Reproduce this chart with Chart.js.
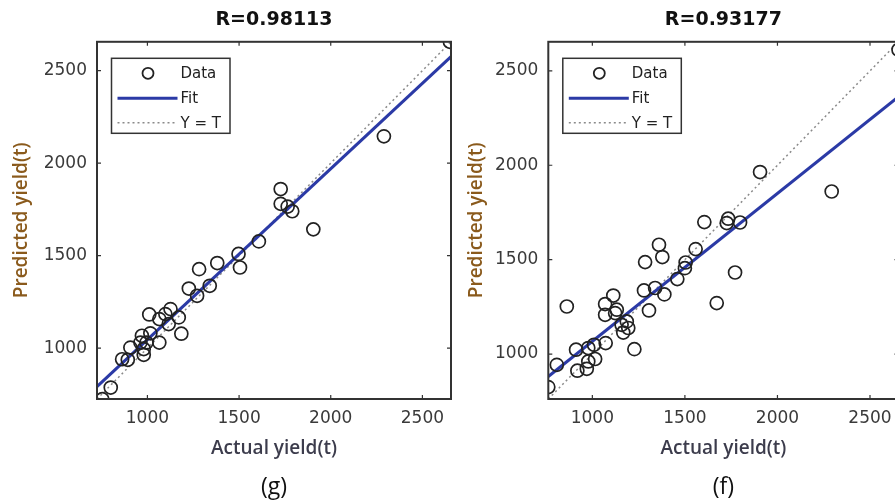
<!DOCTYPE html>
<html>
<head>
<meta charset="utf-8">
<script src="https://cdn.jsdelivr.net/npm/chart.js@4/dist/chart.umd.min.js"></script>
<style>
  html, body { margin: 0; padding: 0; background: #fff; overflow: hidden; }
  #wrap { position: relative; width: 895px; height: 502px; overflow: hidden; }
  #plotG { position: absolute; left: 0; top: 0; }
  #plotF { position: absolute; left: 460px; top: 0; }
</style>
</head>
<body>
<div id="wrap">
  <canvas id="plotG" width="460" height="502"></canvas>
  <canvas id="plotF" width="460" height="502"></canvas>
</div>
<script>
// (g) model: actual vs predicted yield
const actualG = [2650, 2290, 1727, 1727, 1765, 1790, 1905, 1608, 1497, 1505, 1381, 1282, 1340, 1226, 1271,
                 1126, 1098, 1010, 1065, 1171, 1116, 1185, 1065, 1016, 970, 962, 995, 980, 980, 907, 893, 862, 800, 754];
const predictedG = [2656, 2145, 1860, 1780, 1765, 1740, 1642, 1577, 1509, 1436, 1460, 1427, 1337, 1322, 1283,
                    1211, 1184, 1182, 1157, 1166, 1130, 1078, 1030, 1080, 1067, 1030, 1030, 995, 964, 1003, 937, 940, 787, 724];
const fitXG = [725, 2656];
const fitYG = [792, 2576];
const rangeG = [725, 2656];

// (f) model
const actualF = [2654, 2293, 1906, 1734, 1726, 1798, 1605, 1771, 1672, 1558, 1504, 1500, 1459, 1360, 1378,
                 1285, 1389, 1339, 1279, 1306, 1113, 1069, 1132, 1069, 1123, 862, 1186, 1194, 1167, 1158,
                 1227, 1072, 1009, 978, 912, 1015, 978, 970, 919, 808, 762];
const predictedF = [2612, 1861, 1964, 1717, 1694, 1697, 1699, 1432, 1270, 1556, 1485, 1455, 1397, 1579, 1514,
                    1487, 1316, 1350, 1337, 1231, 1310, 1265, 1235, 1208, 1217, 1252, 1173, 1138, 1114, 1155,
                    1026, 1058, 1049, 1032, 1023, 974, 961, 922, 912, 943, 825];
const fitXF = [762, 2654];
const fitYF = [881, 2363];
const rangeF = [762, 2654];

const tickValues = [1000, 1500, 2000, 2500];
const legendLabels = ['Data', 'Fit', 'Y = T'];

const toPoints = (xs, ys) => xs.map((x, i) => ({ x: x, y: ys[i] }));

// box around the plot area with inward ticks on all four sides
const boxPlugin = {
    id: 'boxPlugin',
    afterDatasetsDraw(chart) {
        const { ctx, chartArea: a, scales: { x, y } } = chart;
        ctx.save();
        ctx.strokeStyle = '#333';
        ctx.lineWidth = 1.2;
        tickValues.forEach(v => {
            const px = x.getPixelForValue(v);
            const py = y.getPixelForValue(v);
            ctx.beginPath();
            ctx.moveTo(px, a.bottom); ctx.lineTo(px, a.bottom - 4);
            ctx.moveTo(px, a.top); ctx.lineTo(px, a.top + 4);
            ctx.moveTo(a.left, py); ctx.lineTo(a.left + 4, py);
            ctx.moveTo(a.right, py); ctx.lineTo(a.right - 4, py);
            ctx.stroke();
        });
        ctx.lineWidth = 2;
        ctx.strokeRect(a.left, a.top, a.right - a.left, a.bottom - a.top);
        ctx.restore();
    }
};

// legend box in the upper left corner of the plot area
const legendPlugin = {
    id: 'legendPlugin',
    afterDraw(chart) {
        const { ctx, chartArea: a } = chart;
        const bx = a.left + 14.5, by = a.top + 16.5, bw = 118.5, bh = 75;
        const rows = [15, 40, 64.5];
        ctx.save();
        ctx.fillStyle = '#fff';
        ctx.fillRect(bx, by, bw, bh);
        ctx.strokeStyle = '#333';
        ctx.lineWidth = 1.5;
        ctx.strokeRect(bx, by, bw, bh);

        // Data marker
        ctx.beginPath();
        ctx.lineWidth = 1.8;
        ctx.strokeStyle = '#222';
        ctx.arc(bx + 36.5, by + rows[0], 5.5, 0, Math.PI * 2);
        ctx.stroke();

        // Fit line
        ctx.beginPath();
        ctx.strokeStyle = '#2b3aa6';
        ctx.lineWidth = 3;
        ctx.moveTo(bx + 6, by + rows[1]); ctx.lineTo(bx + 66, by + rows[1]);
        ctx.stroke();

        // Y = T line
        ctx.beginPath();
        ctx.strokeStyle = '#8a8a8a';
        ctx.lineWidth = 1.5;
        ctx.setLineDash([2, 3]);
        ctx.moveTo(bx + 6, by + rows[2]); ctx.lineTo(bx + 66, by + rows[2]);
        ctx.stroke();
        ctx.setLineDash([]);

        ctx.fillStyle = '#222';
        ctx.font = '15px "DejaVu Sans"';
        ctx.textBaseline = 'middle';
        ctx.textAlign = 'left';
        legendLabels.forEach((t, i) => ctx.fillText(t, bx + 69, by + rows[i] + 1));
        ctx.restore();
    }
};

function makePlot(id, opts) {
    const ctx = document.getElementById(id).getContext('2d');
    return new Chart(ctx, {
        type: 'scatter',
        data: {
            datasets: [{
                label: 'Data',
                data: toPoints(opts.actual, opts.predicted),
                pointRadius: 6.5,
                pointStyle: 'circle',
                backgroundColor: 'rgba(0,0,0,0)',
                borderColor: '#222',
                borderWidth: 1.7
            }, {
                label: 'Fit',
                data: toPoints(opts.fitX, opts.fitY),
                showLine: true,
                pointRadius: 0,
                borderColor: '#2b3aa6',
                borderWidth: 3
            }, {
                label: 'Y = T',
                data: toPoints(opts.range, opts.range),
                showLine: true,
                pointRadius: 0,
                borderColor: '#8a8a8a',
                borderWidth: 1.5,
                borderDash: [2, 3]
            }]
        },
        options: {
            responsive: false,
            animation: false,
            devicePixelRatio: 1,
            layout: { padding: { left: 0, right: opts.padRight, top: 0, bottom: 0 } },
            scales: {
                x: {
                    type: 'linear',
                    min: opts.range[0],
                    max: opts.range[1],
                    grid: { display: false, drawTicks: false },
                    border: { display: false },
                    afterBuildTicks: s => { s.ticks = tickValues.map(v => ({ value: v })); },
                    afterFit: s => { s.height = 74.2; },
                    ticks: {
                        padding: 9,
                        color: '#3a3a3a',
                        font: { family: 'DejaVu Sans', size: 17 },
                        maxRotation: 0,
                        callback: v => String(v)
                    },
                    title: {
                        display: true,
                        text: 'Actual yield(t)',
                        color: '#3c3c4c',
                        font: { family: 'Open Sans', size: 19, weight: '600' },
                        padding: { top: 0, bottom: 12.8 }
                    }
                },
                y: {
                    type: 'linear',
                    min: opts.range[0],
                    max: opts.range[1],
                    grid: { display: false, drawTicks: false },
                    border: { display: false },
                    afterBuildTicks: s => { s.ticks = tickValues.map(v => ({ value: v })); },
                    afterFit: s => { s.width = opts.yWidth; },
                    ticks: {
                        padding: 10,
                        color: '#3a3a3a',
                        font: { family: 'DejaVu Sans', size: 17 },
                        callback: v => String(v)
                    },
                    title: {
                        display: true,
                        text: 'Predicted yield(t)',
                        color: '#8a5a1c',
                        font: { family: 'Open Sans', size: 19, weight: '600' },
                        padding: { top: opts.yTitlePad, bottom: 0 }
                    }
                }
            },
            plugins: {
                legend: { display: false },
                tooltip: { enabled: false },
                title: {
                    display: true,
                    text: opts.title,
                    fullSize: false,
                    color: '#111',
                    font: { family: 'DejaVu Sans', size: 19, weight: 'bold' },
                    padding: { top: 9, bottom: 10 }
                },
                subtitle: {
                    display: true,
                    position: 'bottom',
                    text: opts.tag,
                    fullSize: false,
                    color: '#111',
                    font: { family: 'Open Sans', size: 23 },
                    padding: { top: 0, bottom: 1.2 }
                }
            }
        },
        plugins: [boxPlugin, legendPlugin]
    });
}

makePlot('plotG', {
    actual: actualG, predicted: predictedG, fitX: fitXG, fitY: fitYG, range: rangeG,
    title: 'R=0.98113', tag: '(g)', padRight: 9, yWidth: 97, yTitlePad: 10
});

makePlot('plotF', {
    actual: actualF, predicted: predictedF, fitX: fitXF, fitY: fitYF, range: rangeF,
    title: 'R=0.93177', tag: '(f)', padRight: 21.5, yWidth: 88.3, yTitlePad: 5
});
</script>
</body>
</html>
